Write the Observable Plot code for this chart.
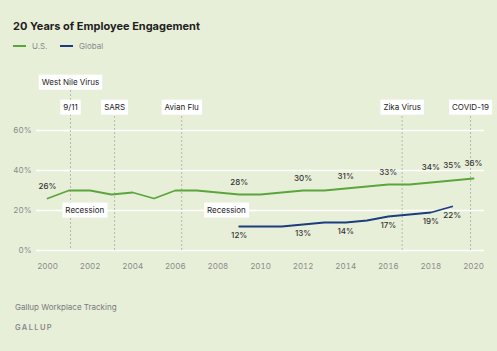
<!DOCTYPE html>
<html><head><meta charset="utf-8">
<script src="https://cdn.jsdelivr.net/npm/d3@7"></script>
<script src="https://cdn.jsdelivr.net/npm/@observablehq/plot@0.6"></script>
<style>
html,body{margin:0;padding:0;background:#e8efd9;}
body{font-family:Inter,"Liberation Sans",sans-serif;}
#wrap{position:relative;width:497px;height:351px;overflow:hidden;background:#e8efd9;}
#title{position:absolute;left:13px;top:19px;font-size:11px;font-weight:700;color:#1e1e1e;white-space:nowrap;}
#legend{position:absolute;left:13px;top:41px;font-size:8px;color:#8a8a8a;white-space:nowrap;}
.item{position:absolute;top:0;height:10px;line-height:10px;}
.sw{position:absolute;top:4px;width:13px;height:2px;}
.lbl{position:absolute;left:19px;top:0;}
#chart{position:absolute;left:0;top:60px;}
#source{position:absolute;left:15px;top:302px;font-size:8px;color:#7a7a7a;white-space:nowrap;}
#brand{position:absolute;left:15px;top:323px;font-size:7.5px;letter-spacing:1.4px;font-weight:600;color:#8a8a8a;}
</style></head>
<body><div id="wrap">
<div id="title">20 Years of Employee Engagement</div>
<div id="legend">
  <div class="item" style="left:0"><div class="sw" style="left:0;background:#5aa63c"></div><div class="lbl">U.S.</div></div>
  <div class="item" style="left:47px"><div class="sw" style="left:0;background:#1b3c7e"></div><div class="lbl">Global</div></div>
</div>
<div id="chart"></div>
<div id="source">Gallup Workplace Tracking</div>
<div id="brand">GALLUP</div>
</div>
<script>
const usYears = [2000,2001,2002,2003,2004,2005,2006,2007,2008,2009,2010,2011,2012,2013,2014,2015,2016,2017,2018,2019,2020];
const usValues = [26,30,30,28,29,26,30,30,29,28,28,29,30,30,31,32,33,33,34,35,36];
const globalYears = [2009,2010,2011,2012,2013,2014,2015,2016,2017,2018,2019];
const globalValues = [12,12,12,13,14,14,15,17,18,19,22];
const usLabelYears = [2000,2009,2012,2014,2016,2018,2019,2020];
const globalLabelYears = [2009,2012,2014,2016,2018,2019];
const eventNames = ["West Nile Virus","9/11","SARS","Avian Flu","Zika Virus","COVID-19"];
const eventYears = [2001.08,2001.08,2003.15,2006.3,2016.65,2019.86];
const eventRows = [1,2,2,2,2,2];
const recessionYears = [2001.75,2008.4];
const xTicks = [2000,2002,2004,2006,2008,2010,2012,2014,2016,2018,2020];
const yTicks = [0,20,40,60];

const us = usYears.map((y,i)=>({year:y,value:usValues[i]}));
const gl = globalYears.map((y,i)=>({year:y,value:globalValues[i]}));
const usLab = us.filter(d=>usLabelYears.includes(d.year));
const glLab = gl.filter(d=>globalLabelYears.includes(d.year));
const events = eventNames.map((n,i)=>({name:n,year:eventYears[i],row:eventRows[i]}));
const row1 = events.filter(d=>d.row===1);
const row2 = events.filter(d=>d.row===2);
const row2Rules = row2.filter(d=>!row1.some(e=>e.year===d.year));
const recessions = recessionYears.map(y=>({year:y,label:"Recession"}));

const fig = Plot.plot({
  width:497, height:225,
  marginLeft:47, marginRight:24, marginTop:70, marginBottom:35,
  style:{background:"transparent",fontFamily:"Inter, 'Liberation Sans', sans-serif",fontSize:"8px",overflow:"visible"},
  x:{domain:[2000,2020],ticks:xTicks,tickFormat:d=>String(d),tickSize:0,tickPadding:13,label:null},
  y:{domain:[0,60],ticks:yTicks,tickFormat:d=>d+"%",tickSize:0,tickPadding:16,label:null},
  marks:[
    Plot.ruleY(yTicks,{stroke:"#ffffff",strokeWidth:1.3,insetLeft:-11,insetRight:-11}),
    Plot.ruleX(row1,{x:"year",stroke:"#a9a9a9",strokeWidth:0.8,strokeDasharray:"2,2",insetTop:-44}),
    Plot.ruleX(row2Rules,{x:"year",stroke:"#a9a9a9",strokeWidth:0.8,strokeDasharray:"2,2",insetTop:-26}),
    Plot.line(us,{x:"year",y:"value",stroke:"#5aa63c",strokeWidth:1.8}),
    Plot.line(gl,{x:"year",y:"value",stroke:"#1b3c7e",strokeWidth:1.8}),
    Plot.text(usLab.filter(d=>d.year<2018),{x:"year",y:"value",text:d=>d.value+"%",dy:-12,fill:"#333",fontWeight:500}),
    Plot.text(usLab.filter(d=>d.year>=2018),{x:"year",y:"value",text:d=>d.value+"%",dy:-15,fill:"#333",fontWeight:500}),
    Plot.text(glLab,{x:"year",y:"value",text:d=>d.value+"%",dy:9,fill:"#333",fontWeight:500}),
    Plot.text(row1,{x:"year",text:"name",frameAnchor:"top",dy:-51,fill:"#222",className:"boxed"}),
    Plot.text(row2,{x:"year",text:"name",frameAnchor:"top",dy:-26,fill:"#222",className:"boxed"}),
    Plot.text(recessions,{x:"year",y:()=>20,text:"label",fill:"#222",className:"boxed"})
  ]
});
fig.querySelectorAll("g[aria-label='x-axis tick label'] text, g[aria-label='y-axis tick label'] text").forEach(t=>t.setAttribute("fill","#8a8a8a"));
document.getElementById("chart").appendChild(fig);
fig.querySelectorAll("g.boxed text").forEach(t=>{
  const b = t.getBBox();
  const r = document.createElementNS("http://www.w3.org/2000/svg","rect");
  r.setAttribute("x",b.x-3); r.setAttribute("y",b.y-2.5);
  r.setAttribute("width",b.width+6); r.setAttribute("height",b.height+5);
  r.setAttribute("fill","#ffffff");
  const tr = t.getAttribute("transform"); if (tr) r.setAttribute("transform",tr);
  t.parentNode.insertBefore(r,t);
});
</script>
</body></html>
